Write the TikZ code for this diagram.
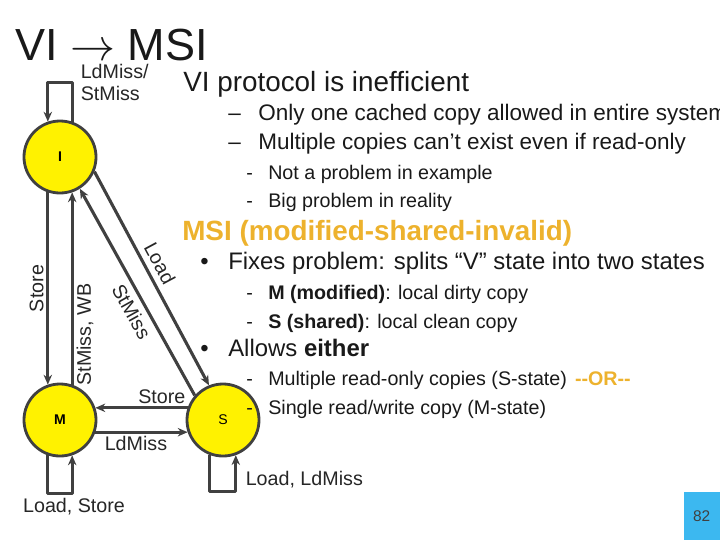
\documentclass[tikz,border=0pt]{standalone}
\usepackage{fix-cm}
\usepackage{fontspec}
\setmainfont{Liberation Sans}
\usetikzlibrary{arrows.meta}
\definecolor{msigold}{RGB}{237,178,45}
\definecolor{edgegray}{RGB}{64,64,64}
\definecolor{pageblue}{RGB}{60,184,240}
\newcommand{\setfs}[1]{\fontsize{#1}{1.15\dimexpr#1pt\relax}\selectfont}
\newcommand{\dashitem}[1]{\makebox[0.75cm][l]{--}#1}
\newcommand{\hyitem}[1]{\makebox[0.55cm][l]{-}#1}
\newcommand{\bulitem}[1]{\makebox[0.7cm][l]{\textbullet}#1}
\begin{document}
\begin{tikzpicture}[x=0.025cm, y=-0.025cm, line join=round, >={Stealth[length=7pt,width=6pt]},
	state/.style={circle, draw=edgegray, line width=2pt, fill=yellow, minimum size=1.8cm, inner sep=0pt, font=\setfs{10}},
	trans/.style={draw=edgegray, line width=2.2pt},
	lbl/.style={font=\setfs{14}, text=black!85, inner sep=2pt},
	txt/.style={anchor=base west, inner sep=0pt, text=black!90}]
	\useasboundingbox (0,0) rectangle (720,540);
	\clip (0,0) rectangle (720,540);
	% states
	\node[state] (I) at (60,157) {\bfseries I};
	\node[state] (M) at (60,420) {\bfseries M};
	\node[state] (S) at (223,420) {S};
	% self loops
	\draw[trans,->] (I.71) -- ++(0,-39) node[lbl, anchor=west, align=left, xshift=3pt] {LdMiss/\\StMiss} -| (I.109);
	\draw[trans,->] (M.251) -- ++(0,38) -| node[lbl, below, pos=0.25, xshift=0.35cm] {Load, Store} (M.289);
	\draw[trans,->] (S.249) -- ++(0,37) -| node[lbl, right, pos=0.75, xshift=4pt, yshift=-4pt] {Load, LdMiss} (S.290);
	% transitions
	\draw[trans,->] (I.251) -- node[lbl, anchor=south, rotate=90] {Store} (M.109);
	\draw[trans,->] (M.71) -- node[lbl, anchor=north, rotate=90, pos=0.26] {StMiss, WB} (I.289);
	\draw[trans,->] (I.-23) -- node[lbl, sloped, above=2pt, pos=0.46] {Load} (S.112);
	\draw[trans,->] (S.139) -- node[lbl, sloped, below=2pt, pos=0.44] {StMiss} (I.-58);
	\draw[trans,->] (S.161) -- node[lbl, above, pos=0.28] {Store} (M.19);
	\draw[trans,->] (M.-19) -- node[lbl, below, pos=0.44] {LdMiss} (S.-161);
	% slide text
	\node[txt, font=\setfs{32}] (title) at (15,60) {VI $\rightarrow$ MSI};
	\node[txt, font=\setfs{19.8}] (vi) at (183,91) {VI protocol is inefficient};
	\node[txt, font=\setfs{16}] (one) at (228,120) {\dashitem{Only one cached copy allowed in entire system}};
	\node[txt, font=\setfs{16}] (multi) at (228,149) {\dashitem{Multiple copies can’t exist even if read-only}};
	\node[txt, font=\setfs{14}] (notprob) at (246,179) {\hyitem{Not a problem in example}};
	\node[txt, font=\setfs{14}] (bigprob) at (246,207) {\hyitem{Big problem in reality}};
	\node[txt, font=\setfs{19.8}\bfseries, text=msigold] (msi) at (182,240) {MSI (modified-shared-invalid)};
	\node[txt, font=\setfs{17}] (fixes) at (200,269) {\bulitem{Fixes problem: splits “V” state into two states}};
	\node[txt, font=\setfs{14}] (mod) at (246,299) {\hyitem{\textbf{M (modified)}: local dirty copy}};
	\node[txt, font=\setfs{14}] (shr) at (246,328) {\hyitem{\textbf{S (shared)}: local clean copy}};
	\node[txt, font=\setfs{17}] (allows) at (200,356) {\bulitem{Allows \textbf{either}}};
	\node[txt, font=\setfs{14}] (ro) at (246,385) {\hyitem{Multiple read-only copies (S-state)\hspace{0.2cm}\textcolor{msigold}{\textbf{-{}-OR-{}-}}}};
	\node[txt, font=\setfs{14}] (rw) at (246,414) {\hyitem{Single read/write copy (M-state)}};
	\node[fill=pageblue, minimum width=0.9cm, minimum height=1.2cm, anchor=south east, inner sep=0pt, font=\setfs{11}, text=black!75] (page) at (720,540) {82};
\end{tikzpicture}
\end{document}
